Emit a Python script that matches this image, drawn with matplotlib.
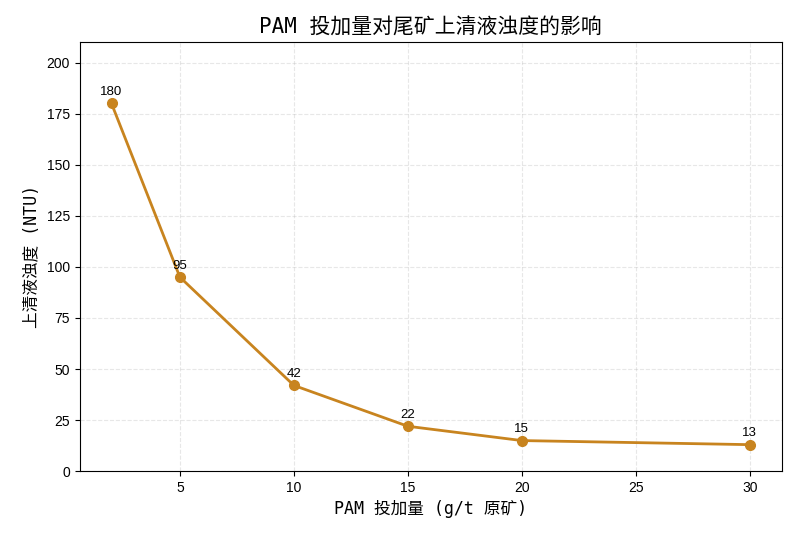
import matplotlib
matplotlib.use("Agg")
from matplotlib import pyplot as plt

dosage = [2, 5, 10, 15, 20, 30]
turbidity = [180, 95, 42, 22, 15, 13]

cjk = ['DejaVu Sans Mono', 'Noto Sans CJK SC']
plt.rcParams['font.family'] = ['Liberation Sans', 'Noto Sans CJK SC']

fig, ax = plt.subplots(figsize=(7.96, 5.41), dpi=100)
ax.plot(dosage, turbidity, color='#C8841F', lw=2, marker='o', ms=7)
for x, y in zip(dosage, turbidity):
    ax.annotate(str(y), (x, y), textcoords='offset points', xytext=(0, 6),
                ha='center', fontsize=9.5)

ax.set_ylim(0, 210)
ax.tick_params(labelsize=10)
ax.grid(True, ls='--', alpha=0.3)
ax.set_title('PAM 投加量对尾矿上清液浊度的影响', family=cjk, fontsize=15)
ax.set_xlabel('PAM 投加量 (g/t 原矿)', family=cjk, fontsize=12)
ax.set_ylabel('上清液浊度 (NTU)', family=cjk, fontsize=12)
fig.subplots_adjust(left=0.1, right=0.982, top=0.922, bottom=0.129)
fig.savefig('out.png')
